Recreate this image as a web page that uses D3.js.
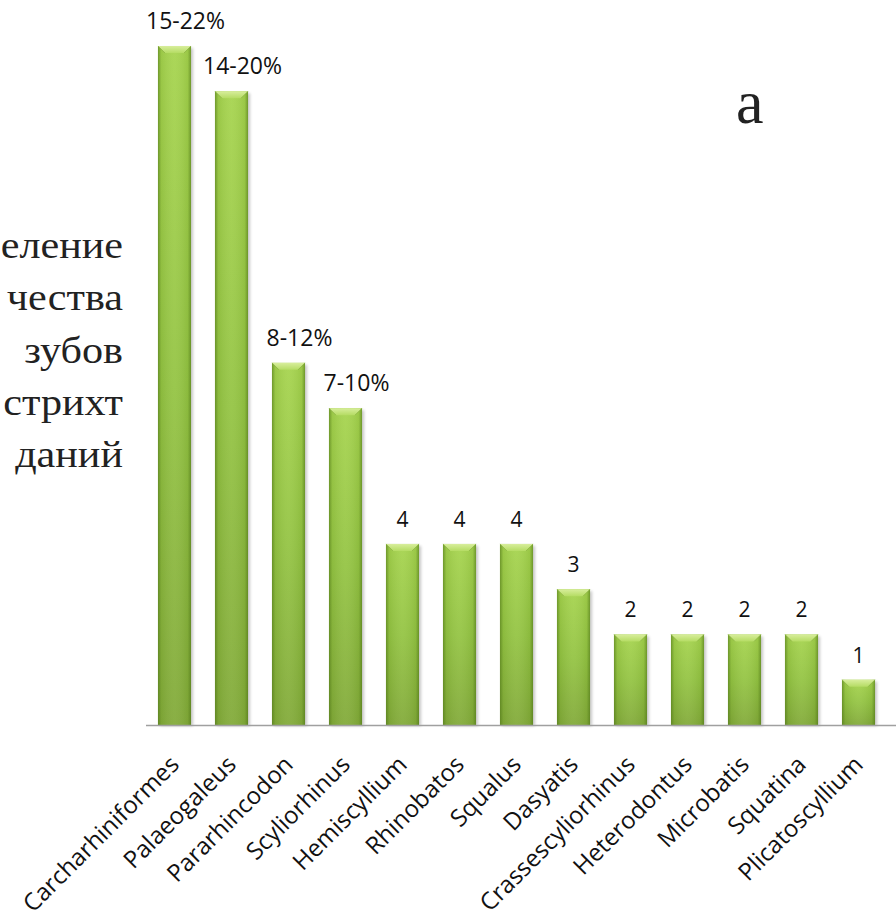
<!DOCTYPE html>
<html><head><meta charset="utf-8">
<script src="https://cdn.jsdelivr.net/npm/d3@7"></script>
<style>body{margin:0;background:#fff;overflow:hidden}</style>
</head><body><svg id="c" width="896" height="922"></svg>
<script>
// ---- data ----
const categories = ["Carcharhiniformes","Palaeogaleus","Pararhincodon","Scyliorhinus","Hemiscyllium","Rhinobatos","Squalus","Dasyatis","Crassescyliorhinus","Heterodontus","Microbatis","Squatina","Plicatoscyllium"];
const values = [15,14,8,7,4,4,4,3,2,2,2,2,1];
const valueLabels = ["15-22%","14-20%","8-12%","7-10%","4","4","4","3","2","2","2","2","1"];
// the visible (edge-cropped) part of the side caption
const sideTextLines = ["еление","чества","зубов","стрихт","даний"];
const panelLetter = "a";

// ---- layout ----
const W = 896, H = 922;
const svg = d3.select("#c");
const baseY = 725;

const x = d3.scaleBand().domain(categories).range([146, 887]).paddingInner(0.42).paddingOuter(0.21);
const y = d3.scaleLinear().domain([0, 15]).range([baseY, 46]);

const defs = svg.append("defs");
const gV = defs.append("linearGradient").attr("id","bodyV").attr("x1",0).attr("y1",0).attr("x2",0).attr("y2",1);
gV.append("stop").attr("offset","0").attr("stop-color","#a6d44e");
gV.append("stop").attr("offset","0.5").attr("stop-color","#94c443");
gV.append("stop").attr("offset","1").attr("stop-color","#82aa39");
const gH = defs.append("linearGradient").attr("id","bodyH").attr("x1",0).attr("y1",0).attr("x2",1).attr("y2",0);
gH.append("stop").attr("offset","0").attr("stop-color","#4a7015").attr("stop-opacity",0.6);
gH.append("stop").attr("offset","0.1").attr("stop-color","#4a7015").attr("stop-opacity",0.12);
gH.append("stop").attr("offset","0.5").attr("stop-color","#ffffff").attr("stop-opacity",0.06);
gH.append("stop").attr("offset","0.9").attr("stop-color","#4a7015").attr("stop-opacity",0.12);
gH.append("stop").attr("offset","1").attr("stop-color","#4a7015").attr("stop-opacity",0.6);
const gT = defs.append("linearGradient").attr("id","bevelT").attr("x1",0).attr("y1",0).attr("x2",0).attr("y2",1);
gT.append("stop").attr("offset","0").attr("stop-color","#d8ee9c");
gT.append("stop").attr("offset","1").attr("stop-color","#b5dc64");
const blur = defs.append("filter").attr("id","sh").attr("x","-20%").attr("y","-20%").attr("width","140%").attr("height","140%");
blur.append("feGaussianBlur").attr("stdDeviation",1.6);

const bw = x.bandwidth();
const bev = 7;

const bars = svg.append("g").selectAll("g").data(categories).join("g")
  .attr("transform", d => `translate(${x(d)},0)`);

bars.append("rect").attr("x",2).attr("y",(d,i)=>y(values[i])+2)
  .attr("width",bw).attr("height",(d,i)=>baseY - y(values[i]) - 1)
  .attr("fill","#000").attr("opacity",0.22).attr("filter","url(#sh)");
bars.append("rect").attr("x",0).attr("y",(d,i)=>y(values[i]))
  .attr("width",bw).attr("height",(d,i)=>baseY - y(values[i]))
  .attr("fill","url(#bodyV)");
bars.append("rect").attr("x",0).attr("y",(d,i)=>y(values[i]))
  .attr("width",bw).attr("height",(d,i)=>baseY - y(values[i]))
  .attr("fill","url(#bodyH)");
bars.append("path").attr("d",(d,i)=>{
  const t = y(values[i]);
  return `M0,${t}L${bw},${t}L${bw-bev},${t+bev}L${bev},${t+bev}Z`;
}).attr("fill","url(#bevelT)");
bars.append("path").attr("d",(d,i)=>{
  const t = y(values[i]);
  return `M0,${t}L${bev},${t+bev}M${bw},${t}L${bw-bev},${t+bev}`;
}).attr("stroke","#7fa63a").attr("stroke-width",0.8).attr("opacity",0.7);

// value labels
svg.append("g").selectAll("text").data(categories).join("text")
  .attr("x", (d,i) => x(d) + bw/2 + (valueLabels[i].includes("%") ? 11 : 0))
  .attr("y", (d,i) => y(values[i]) - 17)
  .attr("text-anchor","middle")
  .attr("font-family","'Open Sans', sans-serif")
  .attr("font-size", (d,i) => valueLabels[i].includes("%") ? 23 : 21)
  .attr("fill","#111")
  .text((d,i) => valueLabels[i]);

// x axis
const ax = svg.append("g").attr("transform",`translate(0,${baseY})`)
  .call(d3.axisBottom(x).tickSize(0).tickPadding(0));
ax.select(".domain").remove();
ax.append("line").attr("x1",x.range()[0]).attr("x2",W).attr("y1",0.5).attr("y2",0.5)
  .attr("stroke","#a0a0a0").attr("stroke-width",1.6);
ax.selectAll(".tick text")
  .attr("font-family","'Open Sans', sans-serif")
  .attr("font-size",24)
  .attr("fill","#111")
  .attr("text-anchor","end")
  .attr("y",0).attr("dy",0)
  .attr("transform","translate(6,41) rotate(-45)");

// side text (horizontally stretched serif, right-aligned)
svg.append("g").selectAll("text").data(sideTextLines).join("text")
  .attr("transform",(d,i)=>`translate(123,${258 + i*52.3}) scale(1.11,1)`)
  .attr("text-anchor","end")
  .attr("font-family","'Liberation Serif', 'Times New Roman', serif")
  .attr("font-size",38)
  .attr("fill","#222")
  .text(d=>d);

svg.append("text").attr("x",736).attr("y",123)
  .attr("font-family","'Liberation Serif', 'Times New Roman', serif")
  .attr("font-size",62).attr("fill","#222").text(panelLetter);
</script></body></html>
